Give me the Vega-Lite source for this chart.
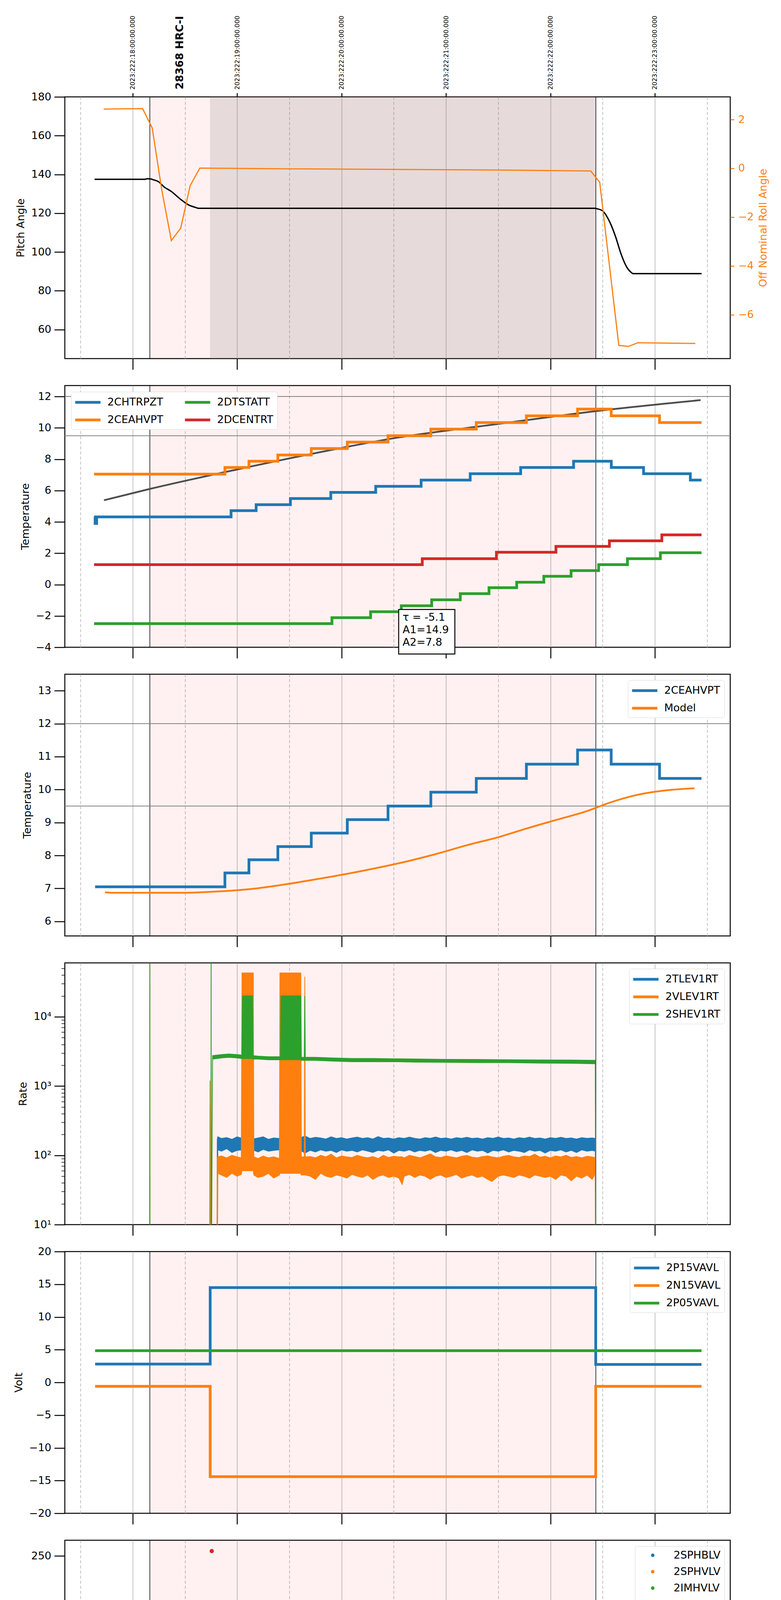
{
"$schema": "https://vega.github.io/schema/vega-lite/v6.json",
"background": "white",
"padding": {"top": 38, "left": 29, "right": 5, "bottom": 5},
"spacing": 69,
"bounds": "flush",
"resolve": {"scale": {"x": "independent", "y": "independent", "color": "independent", "stroke": "independent"}},
"vconcat": [
{
 "width": 1704, "height": 670,
 "layer": [
  {"data": {"values": [{"a": 14.164, "b": 18.435}]}, "mark": {"type": "rect", "color": "#ff0000", "opacity": 0.055},
   "encoding": {"x": {"field": "a", "type": "quantitative", "scale": {"domain": [13.35, 19.722], "nice": false, "zero": false},
     "axis": {"title": null, "values": [13.5,14,14.5,15,15.5,16,16.5,17,17.5,18,18.5,19,19.5], "labels": false, "grid": true, "gridColor": "#b0b0b0", "gridWidth": 1.5, "gridDash": {"condition": {"test": "datum.value % 1 != 0", "value": [8, 5]}, "value": []}, "tickSize": {"condition": {"test": "datum.value % 1 == 0", "value": 28}, "value": 0}}},
    "x2": {"field": "b"}}},
  {"data": {"values": [{"a": 14.74, "b": 18.435}]}, "mark": {"type": "rect", "color": "#808080", "opacity": 0.2},
   "encoding": {"x": {"field": "a", "type": "quantitative", "scale": {"domain": [13.35, 19.722], "nice": false, "zero": false}, "axis": null}, "x2": {"field": "b"}}},
  {"data": {"values": [{"t": 14.164}, {"t": 18.435}]}, "mark": {"type": "rule", "color": "black", "strokeWidth": 1.5},
   "encoding": {"x": {"field": "t", "type": "quantitative", "scale": {"domain": [13.35, 19.722], "nice": false, "zero": false}, "axis": null}}},
  {"layer": [
    {"data": {"values": [{"t":13.635,"v":137.5},{"t":14.117,"v":137.5},{"t":14.14,"v":137.8},{"t":14.17,"v":137.7},{"t":14.2,"v":137.2},{"t":14.248,"v":136.2},{"t":14.3,"v":133.6},{"t":14.37,"v":131.2},{"t":14.453,"v":127.4},{"t":14.537,"v":124.2},{"t":14.6,"v":123.0},{"t":14.633,"v":122.5},{"t":18.43,"v":122.5},{"t":18.445,"v":122.3},{"t":18.497,"v":121.3},{"t":18.567,"v":115.6},{"t":18.627,"v":107.4},{"t":18.675,"v":99.2},{"t":18.733,"v":92.0},{"t":18.77,"v":89.6},{"t":18.793,"v":88.8},{"t":19.448,"v":88.8}]},
     "mark": {"type": "line", "color": "black", "strokeWidth": 3.5, "interpolate": "monotone", "clip": true},
     "encoding": {"x": {"field": "t", "type": "quantitative", "scale": {"domain": [13.35, 19.722], "nice": false, "zero": false}, "axis": null},
      "y": {"field": "v", "type": "quantitative", "scale": {"domain": [45, 180], "nice": false, "zero": false}, "axis": {"title": "Pitch Angle", "orient": "left", "values": [60,80,100,120,140,160,180]}}}},
    {"data": {"values": [{"t": 14.452, "v": 180, "txt": "28368 HRC-I"}]},
     "mark": {"type": "text", "angle": 270, "align": "left", "baseline": "middle", "dx": 19, "font": "DejaVu Sans", "fontSize": 27, "fontWeight": "bold", "color": "black"},
     "encoding": {"x": {"field": "t", "type": "quantitative", "scale": {"domain": [13.35, 19.722], "nice": false, "zero": false}, "axis": null},
      "y": {"field": "v", "type": "quantitative", "scale": {"domain": [45, 180], "nice": false, "zero": false}, "axis": {"title": "Pitch Angle", "orient": "left", "values": [60,80,100,120,140,160,180]}},
      "text": {"field": "txt"}}}
  ]},
  {"data": {"values": [{"t":13.723,"v":2.43},{"t":14.095,"v":2.45},{"t":14.187,"v":1.65},{"t":14.279,"v":-0.9},{"t":14.37,"v":-2.96},{"t":14.46,"v":-2.45},{"t":14.55,"v":-0.71},{"t":14.643,"v":0.01},{"t":15.5,"v":-0.02},{"t":16.383,"v":-0.04},{"t":17.5,"v":-0.07},{"t":18.387,"v":-0.11},{"t":18.472,"v":-0.57},{"t":18.655,"v":-7.26},{"t":18.747,"v":-7.3},{"t":18.837,"v":-7.15},{"t":19.387,"v":-7.18}]},
   "mark": {"type": "line", "color": "#ff7f0e", "strokeWidth": 3, "clip": true},
   "encoding": {"x": {"field": "t", "type": "quantitative", "scale": {"domain": [13.35, 19.722], "nice": false, "zero": false},
     "axis": {"orient": "top", "title": null, "values": [14,15,16,17,18,19], "labelExpr": "'2023:222:' + (datum.value + 4) + ':00:00.000'", "labelAngle": 270, "labelAlign": "left", "labelBaseline": "middle", "labelFontSize": 16, "labelPadding": 9, "labelLimit": 400, "tickSize": 10, "grid": false, "labelOverlap": false, "labelFlush": false, "labelBound": false}},
    "y": {"field": "v", "type": "quantitative", "scale": {"domain": [-7.8, 2.93], "nice": false, "zero": false},
     "axis": {"orient": "right", "title": "Off Nominal Roll Angle", "values": [-6,-4,-2,0,2], "labelColor": "#ff7f0e", "tickColor": "#ff7f0e", "titleColor": "#ff7f0e", "tickSize": 10, "labelPadding": 10, "titlePadding": 12, "titleAngle": 270, "titleBaseline": "top"}}}}
 ],
 "resolve": {"scale": {"y": "independent"}, "axis": {"x": "independent", "y": "independent"}}
},
{
 "width": 1704, "height": 670,
 "resolve": {"axis": {"x": "independent"}},
 "layer": [
  {"data": {"values": [{"a": 14.164, "b": 18.435}]}, "mark": {"type": "rect", "color": "#ff0000", "opacity": 0.055},
   "encoding": {"x": {"field": "a", "type": "quantitative", "scale": {"domain": [13.35, 19.722], "nice": false, "zero": false},
     "axis": {"title": null, "values": [13.5,14,14.5,15,15.5,16,16.5,17,17.5,18,18.5,19,19.5], "labels": false, "grid": true, "gridColor": "#b0b0b0", "gridWidth": 1.5, "gridDash": {"condition": {"test": "datum.value % 1 != 0", "value": [8, 5]}, "value": []}, "tickSize": {"condition": {"test": "datum.value % 1 == 0", "value": 28}, "value": 0}}},
    "x2": {"field": "b"}}},
  {"data": {"values": [{"t": 14.164}, {"t": 18.435}]}, "mark": {"type": "rule", "color": "black", "strokeWidth": 1.5},
   "encoding": {"x": {"field": "t", "type": "quantitative", "scale": {"domain": [13.35, 19.722], "nice": false, "zero": false}, "axis": null}}},
  {"data": {"values": [{"v": 12}, {"v": 9.5}]}, "mark": {"type": "rule", "color": "#808080", "strokeWidth": 2},
   "encoding": {"y": {"field": "v", "type": "quantitative", "scale": {"domain": [-4, 12.7], "nice": false, "zero": false}, "axis": {"title": "Temperature", "values": [-4,-2,0,2,4,6,8,10,12]}}}},
  {"data": {"values": [{"t":13.725,"v":5.38},{"t":14.162,"v":6.1},{"t":14.99,"v":7.33},{"t":16.0,"v":8.72},{"t":16.465,"v":9.3},{"t":17.5,"v":10.25},{"t":18.435,"v":11.07},{"t":19.438,"v":11.77}]},
   "mark": {"type": "line", "color": "#4d4d4d", "strokeWidth": 4.5, "interpolate": "monotone", "clip": true},
   "encoding": {"x": {"field": "t", "type": "quantitative", "scale": {"domain": [13.35, 19.722], "nice": false, "zero": false}, "axis": null},
    "y": {"field": "v", "type": "quantitative", "scale": {"domain": [-4, 12.7], "nice": false, "zero": false}, "axis": {"title": "Temperature", "values": [-4,-2,0,2,4,6,8,10,12]}}}},
  {"data": {"values": [{"t":13.63,"v":4.32},{"t":13.64,"v":3.9},{"t":13.655,"v":4.32},{"t":14.942,"v":4.72},{"t":15.182,"v":5.1},{"t":15.51,"v":5.49},{"t":15.897,"v":5.88},{"t":16.327,"v":6.27},{"t":16.762,"v":6.67},{"t":17.232,"v":7.07},{"t":17.715,"v":7.47},{"t":18.222,"v":7.87},{"t":18.583,"v":7.47},{"t":18.892,"v":7.07},{"t":19.34,"v":6.67},{"t":19.447,"v":6.67}]},
   "mark": {"type": "line", "strokeWidth": 7, "interpolate": "step-after", "clip": true},
   "encoding": {"x": {"field": "t", "type": "quantitative", "scale": {"domain": [13.35, 19.722], "nice": false, "zero": false}, "axis": null},
    "y": {"field": "v", "type": "quantitative", "scale": {"domain": [-4, 12.7], "nice": false, "zero": false}, "axis": {"title": "Temperature", "values": [-4,-2,0,2,4,6,8,10,12]}},
    "color": {"datum": "2CHTRPZT", "type": "nominal", "scale": {"domain": ["2CHTRPZT","2CEAHVPT","2DTSTATT","2DCENTRT"], "range": ["#1f77b4","#ff7f0e","#2ca02c","#d62728"]}, "legend": {"title": null, "orient": "top-left", "columns": 2, "columnPadding": 40, "offset": 16}}}},
  {"data": {"values": [{"t":13.63,"v":7.05},{"t":14.883,"v":7.47},{"t":15.113,"v":7.87},{"t":15.39,"v":8.27},{"t":15.71,"v":8.68},{"t":16.055,"v":9.09},{"t":16.445,"v":9.5},{"t":16.855,"v":9.92},{"t":17.29,"v":10.34},{"t":17.77,"v":10.77},{"t":18.26,"v":11.2},{"t":18.582,"v":10.77},{"t":19.045,"v":10.34},{"t":19.447,"v":10.34}]},
   "mark": {"type": "line", "strokeWidth": 7, "interpolate": "step-after", "clip": true},
   "encoding": {"x": {"field": "t", "type": "quantitative", "scale": {"domain": [13.35, 19.722], "nice": false, "zero": false}, "axis": null},
    "y": {"field": "v", "type": "quantitative", "scale": {"domain": [-4, 12.7], "nice": false, "zero": false}, "axis": {"title": "Temperature", "values": [-4,-2,0,2,4,6,8,10,12]}},
    "color": {"datum": "2CEAHVPT", "type": "nominal", "scale": {"domain": ["2CHTRPZT","2CEAHVPT","2DTSTATT","2DCENTRT"], "range": ["#1f77b4","#ff7f0e","#2ca02c","#d62728"]}}}},
  {"data": {"values": [{"t":13.63,"v":-2.49},{"t":15.908,"v":-2.11},{"t":16.278,"v":-1.73},{"t":16.572,"v":-1.35},{"t":16.863,"v":-0.97},{"t":17.137,"v":-0.58},{"t":17.412,"v":-0.2},{"t":17.677,"v":0.15},{"t":17.937,"v":0.53},{"t":18.198,"v":0.89},{"t":18.462,"v":1.27},{"t":18.738,"v":1.65},{"t":19.053,"v":2.03},{"t":19.447,"v":2.03}]},
   "mark": {"type": "line", "strokeWidth": 7, "interpolate": "step-after", "clip": true},
   "encoding": {"x": {"field": "t", "type": "quantitative", "scale": {"domain": [13.35, 19.722], "nice": false, "zero": false}, "axis": null},
    "y": {"field": "v", "type": "quantitative", "scale": {"domain": [-4, 12.7], "nice": false, "zero": false}, "axis": {"title": "Temperature", "values": [-4,-2,0,2,4,6,8,10,12]}},
    "color": {"datum": "2DTSTATT", "type": "nominal", "scale": {"domain": ["2CHTRPZT","2CEAHVPT","2DTSTATT","2DCENTRT"], "range": ["#1f77b4","#ff7f0e","#2ca02c","#d62728"]}}}},
  {"data": {"values": [{"t":13.63,"v":1.27},{"t":16.773,"v":1.65},{"t":17.483,"v":2.06},{"t":18.053,"v":2.44},{"t":18.565,"v":2.79},{"t":19.067,"v":3.17},{"t":19.447,"v":3.17}]},
   "mark": {"type": "line", "strokeWidth": 7, "interpolate": "step-after", "clip": true},
   "encoding": {"x": {"field": "t", "type": "quantitative", "scale": {"domain": [13.35, 19.722], "nice": false, "zero": false}, "axis": null},
    "y": {"field": "v", "type": "quantitative", "scale": {"domain": [-4, 12.7], "nice": false, "zero": false}, "axis": {"title": "Temperature", "values": [-4,-2,0,2,4,6,8,10,12]}},
    "color": {"datum": "2DCENTRT", "type": "nominal", "scale": {"domain": ["2CHTRPZT","2CEAHVPT","2DTSTATT","2DCENTRT"], "range": ["#1f77b4","#ff7f0e","#2ca02c","#d62728"]}}}},
  {"data": {"values": [{"x1": 16.547, "x2": 17.085, "y1": -1.59, "y2": -4.43}]},
   "mark": {"type": "rect", "fill": "white", "stroke": "black", "strokeWidth": 2.5},
   "encoding": {"x": {"field": "x1", "type": "quantitative", "scale": {"domain": [13.35, 19.722], "nice": false, "zero": false}, "axis": null}, "x2": {"field": "x2"},
    "y": {"field": "y1", "type": "quantitative", "scale": {"domain": [-4, 12.7], "nice": false, "zero": false}, "axis": {"title": "Temperature", "values": [-4,-2,0,2,4,6,8,10,12]}}, "y2": {"field": "y2"}}},
  {"data": {"values": [{"t": 16.585, "v": -1.59, "txt": ["τ = -5.1", "A1=14.9", "A2=7.8"]}]},
   "mark": {"type": "text", "align": "left", "baseline": "top", "dy": 8, "font": "DejaVu Sans", "fontSize": 27, "lineHeight": 32, "color": "black"},
   "encoding": {"x": {"field": "t", "type": "quantitative", "scale": {"domain": [13.35, 19.722], "nice": false, "zero": false}, "axis": null},
    "y": {"field": "v", "type": "quantitative", "scale": {"domain": [-4, 12.7], "nice": false, "zero": false}, "axis": {"title": "Temperature", "values": [-4,-2,0,2,4,6,8,10,12]}},
    "text": {"field": "txt"}}}
 ]
},
{
 "width": 1704, "height": 670,
 "resolve": {"axis": {"x": "independent"}},
 "layer": [
  {"data": {"values": [{"a": 14.164, "b": 18.435}]}, "mark": {"type": "rect", "color": "#ff0000", "opacity": 0.055},
   "encoding": {"x": {"field": "a", "type": "quantitative", "scale": {"domain": [13.35, 19.722], "nice": false, "zero": false},
     "axis": {"title": null, "values": [13.5,14,14.5,15,15.5,16,16.5,17,17.5,18,18.5,19,19.5], "labels": false, "grid": true, "gridColor": "#b0b0b0", "gridWidth": 1.5, "gridDash": {"condition": {"test": "datum.value % 1 != 0", "value": [8, 5]}, "value": []}, "tickSize": {"condition": {"test": "datum.value % 1 == 0", "value": 28}, "value": 0}}},
    "x2": {"field": "b"}}},
  {"data": {"values": [{"t": 14.164}, {"t": 18.435}]}, "mark": {"type": "rule", "color": "black", "strokeWidth": 1.5},
   "encoding": {"x": {"field": "t", "type": "quantitative", "scale": {"domain": [13.35, 19.722], "nice": false, "zero": false}, "axis": null}}},
  {"data": {"values": [{"v": 12}, {"v": 9.5}]}, "mark": {"type": "rule", "color": "#808080", "strokeWidth": 2},
   "encoding": {"y": {"field": "v", "type": "quantitative", "scale": {"domain": [5.56, 13.5], "nice": false, "zero": false}, "axis": {"title": "Temperature", "values": [6,7,8,9,10,11,12,13]}}}},
  {"data": {"values": [{"t":13.64,"v":7.05},{"t":14.883,"v":7.47},{"t":15.113,"v":7.87},{"t":15.39,"v":8.27},{"t":15.71,"v":8.68},{"t":16.055,"v":9.09},{"t":16.445,"v":9.5},{"t":16.855,"v":9.92},{"t":17.29,"v":10.34},{"t":17.77,"v":10.77},{"t":18.26,"v":11.2},{"t":18.582,"v":10.77},{"t":19.045,"v":10.34},{"t":19.447,"v":10.34}]},
   "mark": {"type": "line", "strokeWidth": 7, "interpolate": "step-after", "clip": true},
   "encoding": {"x": {"field": "t", "type": "quantitative", "scale": {"domain": [13.35, 19.722], "nice": false, "zero": false}, "axis": null},
    "y": {"field": "v", "type": "quantitative", "scale": {"domain": [5.56, 13.5], "nice": false, "zero": false}, "axis": {"title": "Temperature", "values": [6,7,8,9,10,11,12,13]}},
    "color": {"datum": "2CEAHVPT", "type": "nominal", "scale": {"domain": ["2CEAHVPT","Model"], "range": ["#1f77b4","#ff7f0e"]}, "legend": {"title": null, "orient": "top-right"}}}},
  {"data": {"values": [{"t":13.735,"v":6.88},{"t":13.817,"v":6.87},{"t":14.0,"v":6.87},{"t":14.467,"v":6.87},{"t":14.823,"v":6.91},{"t":15.013,"v":6.95},{"t":15.205,"v":7.01},{"t":15.492,"v":7.14},{"t":15.777,"v":7.29},{"t":16.063,"v":7.45},{"t":16.35,"v":7.63},{"t":16.637,"v":7.83},{"t":16.922,"v":8.06},{"t":17.208,"v":8.32},{"t":17.495,"v":8.55},{"t":17.782,"v":8.83},{"t":18.067,"v":9.09},{"t":18.353,"v":9.35},{"t":18.545,"v":9.58},{"t":18.832,"v":9.84},{"t":19.117,"v":9.98},{"t":19.38,"v":10.04}]},
   "mark": {"type": "line", "strokeWidth": 4.5, "interpolate": "monotone", "clip": true},
   "encoding": {"x": {"field": "t", "type": "quantitative", "scale": {"domain": [13.35, 19.722], "nice": false, "zero": false}, "axis": null},
    "y": {"field": "v", "type": "quantitative", "scale": {"domain": [5.56, 13.5], "nice": false, "zero": false}, "axis": {"title": "Temperature", "values": [6,7,8,9,10,11,12,13]}},
    "color": {"datum": "Model", "type": "nominal", "scale": {"domain": ["2CEAHVPT","Model"], "range": ["#1f77b4","#ff7f0e"]}}}}
 ]
},
{
 "width": 1704, "height": 670,
 "resolve": {"axis": {"x": "independent"}},
 "layer": [
  {"data": {"values": [{"a": 14.164, "b": 18.435}]}, "mark": {"type": "rect", "color": "#ff0000", "opacity": 0.055},
   "encoding": {"x": {"field": "a", "type": "quantitative", "scale": {"domain": [13.35, 19.722], "nice": false, "zero": false},
     "axis": {"title": null, "values": [13.5,14,14.5,15,15.5,16,16.5,17,17.5,18,18.5,19,19.5], "labels": false, "grid": true, "gridColor": "#b0b0b0", "gridWidth": 1.5, "gridDash": {"condition": {"test": "datum.value % 1 != 0", "value": [8, 5]}, "value": []}, "tickSize": {"condition": {"test": "datum.value % 1 == 0", "value": 28}, "value": 0}}},
    "x2": {"field": "b"}}},
  {"data": {"values": [{"t": 14.164}, {"t": 18.435}]}, "mark": {"type": "rule", "color": "black", "strokeWidth": 1.5},
   "encoding": {"x": {"field": "t", "type": "quantitative", "scale": {"domain": [13.35, 19.722], "nice": false, "zero": false}, "axis": null}}},
  {"data": {"values": [{"t":14.805,"lo":1,"hi":1},{"t":14.81,"lo":1,"hi":170},{"t":14.815,"lo":120,"hi":185},{"t":14.85,"lo":115,"hi":175},{"t":14.9,"lo":125,"hi":180},{"t":14.95,"lo":110,"hi":170},{"t":15.0,"lo":118,"hi":185},{"t":15.05,"lo":120,"hi":175},{"t":15.1,"lo":115,"hi":180},{"t":15.15,"lo":120,"hi":172},{"t":15.2,"lo":112,"hi":178},{"t":15.25,"lo":122,"hi":185},{"t":15.3,"lo":115,"hi":170},{"t":15.35,"lo":118,"hi":178},{"t":15.4,"lo":120,"hi":175},{"t":15.45,"lo":110,"hi":180},{"t":15.5,"lo":118,"hi":172},{"t":15.55,"lo":115,"hi":185},{"t":15.6,"lo":120,"hi":178},{"t":15.65,"lo":108,"hi":190},{"t":15.7,"lo":118,"hi":175},{"t":15.75,"lo":112,"hi":182},{"t":15.8,"lo":120,"hi":178},{"t":15.85,"lo":115,"hi":172},{"t":15.9,"lo":118,"hi":185},{"t":15.95,"lo":110,"hi":175},{"t":16.0,"lo":120,"hi":180},{"t":16.05,"lo":115,"hi":172},{"t":16.1,"lo":118,"hi":178},{"t":16.15,"lo":112,"hi":183},{"t":16.2,"lo":120,"hi":175},{"t":16.25,"lo":115,"hi":180},{"t":16.3,"lo":110,"hi":172},{"t":16.35,"lo":118,"hi":186},{"t":16.4,"lo":115,"hi":175},{"t":16.45,"lo":120,"hi":178},{"t":16.5,"lo":108,"hi":172},{"t":16.55,"lo":118,"hi":180},{"t":16.6,"lo":115,"hi":175},{"t":16.65,"lo":120,"hi":183},{"t":16.7,"lo":112,"hi":176},{"t":16.75,"lo":118,"hi":172},{"t":16.8,"lo":115,"hi":180},{"t":16.85,"lo":120,"hi":176},{"t":16.9,"lo":110,"hi":184},{"t":16.95,"lo":118,"hi":175},{"t":17.0,"lo":115,"hi":178},{"t":17.05,"lo":120,"hi":172},{"t":17.1,"lo":113,"hi":180},{"t":17.15,"lo":118,"hi":176},{"t":17.2,"lo":110,"hi":182},{"t":17.25,"lo":120,"hi":175},{"t":17.3,"lo":115,"hi":178},{"t":17.35,"lo":118,"hi":172},{"t":17.4,"lo":108,"hi":180},{"t":17.45,"lo":118,"hi":176},{"t":17.5,"lo":115,"hi":184},{"t":17.55,"lo":120,"hi":175},{"t":17.6,"lo":112,"hi":178},{"t":17.65,"lo":118,"hi":172},{"t":17.7,"lo":115,"hi":180},{"t":17.75,"lo":110,"hi":176},{"t":17.8,"lo":120,"hi":183},{"t":17.85,"lo":115,"hi":175},{"t":17.9,"lo":118,"hi":178},{"t":17.95,"lo":108,"hi":172},{"t":18.0,"lo":118,"hi":180},{"t":18.05,"lo":115,"hi":176},{"t":18.1,"lo":120,"hi":182},{"t":18.15,"lo":112,"hi":175},{"t":18.2,"lo":118,"hi":178},{"t":18.25,"lo":110,"hi":172},{"t":18.3,"lo":120,"hi":180},{"t":18.35,"lo":115,"hi":176},{"t":18.4,"lo":118,"hi":178},{"t":18.43,"lo":115,"hi":175},{"t":18.433,"lo":1,"hi":1}]},
   "mark": {"type": "area", "fill": "#1f77b4", "strokeWidth": 2, "clip": true},
   "encoding": {"x": {"field": "t", "type": "quantitative", "scale": {"domain": [13.35, 19.722], "nice": false, "zero": false}, "axis": null},
    "y": {"field": "lo", "type": "quantitative", "scale": {"type": "log", "domain": [10, 60000], "nice": false},
     "axis": {"title": "Rate", "values": [10,20,30,40,50,60,70,80,90,100,200,300,400,500,600,700,800,900,1000,2000,3000,4000,5000,6000,7000,8000,9000,10000,20000,30000,40000,50000], "labelExpr": "datum.value == 10 ? '10¹' : datum.value == 100 ? '10²' : datum.value == 1000 ? '10³' : datum.value == 10000 ? '10⁴' : ''", "tickSize": {"condition": {"test": "datum.value == 10 || datum.value == 100 || datum.value == 1000 || datum.value == 10000", "value": 27}, "value": 9}, "tickWidth": {"condition": {"test": "datum.value == 10 || datum.value == 100 || datum.value == 1000 || datum.value == 10000", "value": 2.5}, "value": 1.5}, "labelOverlap": false}},
    "y2": {"field": "hi"},
    "stroke": {"datum": "2TLEV1RT", "type": "nominal", "scale": {"domain": ["2TLEV1RT","2VLEV1RT","2SHEV1RT"], "range": ["#1f77b4","#ff7f0e","#2ca02c"]}, "legend": {"title": null, "orient": "top-right"}}}},
  {"data": {"values": [{"t":14.735,"lo":1,"hi":1},{"t":14.74,"lo":1,"hi":1200},{"t":14.745,"lo":1,"hi":1},{"t":14.806,"lo":1,"hi":1},{"t":14.81,"lo":1,"hi":90},{"t":14.815,"lo":55,"hi":95},{"t":14.85,"lo":52,"hi":98},{"t":14.9,"lo":48,"hi":92},{"t":14.95,"lo":55,"hi":100},{"t":15.0,"lo":50,"hi":95},{"t":15.04,"lo":53,"hi":92},{"t":15.047,"lo":60,"hi":43000},{"t":15.155,"lo":60,"hi":43000},{"t":15.16,"lo":52,"hi":95},{"t":15.2,"lo":48,"hi":90},{"t":15.25,"lo":50,"hi":98},{"t":15.3,"lo":55,"hi":92},{"t":15.35,"lo":47,"hi":95},{"t":15.405,"lo":52,"hi":90},{"t":15.41,"lo":55,"hi":43000},{"t":15.61,"lo":55,"hi":43000},{"t":15.615,"lo":52,"hi":95},{"t":15.643,"lo":52,"hi":95},{"t":15.648,"lo":52,"hi":38000},{"t":15.653,"lo":52,"hi":95},{"t":15.7,"lo":50,"hi":96},{"t":15.75,"lo":45,"hi":92},{"t":15.8,"lo":55,"hi":100},{"t":15.85,"lo":50,"hi":95},{"t":15.9,"lo":48,"hi":104},{"t":15.95,"lo":52,"hi":92},{"t":16.0,"lo":50,"hi":98},{"t":16.05,"lo":47,"hi":95},{"t":16.1,"lo":53,"hi":93},{"t":16.15,"lo":50,"hi":100},{"t":16.2,"lo":48,"hi":95},{"t":16.25,"lo":52,"hi":92},{"t":16.3,"lo":45,"hi":96},{"t":16.35,"lo":50,"hi":90},{"t":16.4,"lo":52,"hi":100},{"t":16.45,"lo":48,"hi":93},{"t":16.5,"lo":50,"hi":97},{"t":16.55,"lo":47,"hi":95},{"t":16.58,"lo":38,"hi":95},{"t":16.6,"lo":50,"hi":92},{"t":16.65,"lo":53,"hi":100},{"t":16.7,"lo":48,"hi":96},{"t":16.75,"lo":52,"hi":92},{"t":16.8,"lo":50,"hi":98},{"t":16.85,"lo":45,"hi":105},{"t":16.9,"lo":50,"hi":95},{"t":16.95,"lo":52,"hi":93},{"t":17.0,"lo":48,"hi":98},{"t":17.05,"lo":50,"hi":95},{"t":17.1,"lo":53,"hi":92},{"t":17.15,"lo":47,"hi":97},{"t":17.2,"lo":50,"hi":100},{"t":17.25,"lo":52,"hi":94},{"t":17.3,"lo":48,"hi":92},{"t":17.35,"lo":50,"hi":96},{"t":17.4,"lo":45,"hi":98},{"t":17.44,"lo":42,"hi":95},{"t":17.5,"lo":50,"hi":92},{"t":17.55,"lo":52,"hi":97},{"t":17.6,"lo":50,"hi":100},{"t":17.65,"lo":48,"hi":95},{"t":17.7,"lo":52,"hi":93},{"t":17.75,"lo":50,"hi":98},{"t":17.8,"lo":47,"hi":96},{"t":17.85,"lo":52,"hi":104},{"t":17.9,"lo":50,"hi":94},{"t":17.95,"lo":48,"hi":97},{"t":18.0,"lo":50,"hi":92},{"t":18.05,"lo":45,"hi":98},{"t":18.1,"lo":52,"hi":95},{"t":18.15,"lo":50,"hi":100},{"t":18.2,"lo":43,"hi":93},{"t":18.25,"lo":50,"hi":96},{"t":18.3,"lo":47,"hi":92},{"t":18.35,"lo":52,"hi":97},{"t":18.4,"lo":45,"hi":95},{"t":18.43,"lo":55,"hi":92},{"t":18.433,"lo":1,"hi":1}]},
   "mark": {"type": "area", "fill": "#ff7f0e", "strokeWidth": 2, "clip": true},
   "encoding": {"x": {"field": "t", "type": "quantitative", "scale": {"domain": [13.35, 19.722], "nice": false, "zero": false}, "axis": null},
    "y": {"field": "lo", "type": "quantitative", "scale": {"type": "log", "domain": [10, 60000], "nice": false},
     "axis": {"title": "Rate", "values": [10,20,30,40,50,60,70,80,90,100,200,300,400,500,600,700,800,900,1000,2000,3000,4000,5000,6000,7000,8000,9000,10000,20000,30000,40000,50000], "labelExpr": "datum.value == 10 ? '10¹' : datum.value == 100 ? '10²' : datum.value == 1000 ? '10³' : datum.value == 10000 ? '10⁴' : ''", "tickSize": {"condition": {"test": "datum.value == 10 || datum.value == 100 || datum.value == 1000 || datum.value == 10000", "value": 27}, "value": 9}, "tickWidth": {"condition": {"test": "datum.value == 10 || datum.value == 100 || datum.value == 1000 || datum.value == 10000", "value": 2.5}, "value": 1.5}, "labelOverlap": false}},
    "y2": {"field": "hi"},
    "stroke": {"datum": "2VLEV1RT", "type": "nominal", "scale": {"domain": ["2TLEV1RT","2VLEV1RT","2SHEV1RT"], "range": ["#1f77b4","#ff7f0e","#2ca02c"]}}}},
  {"data": {"values": [{"t":14.162,"lo":1,"hi":1},{"t":14.164,"lo":1,"hi":1000000},{"t":14.166,"lo":1,"hi":1},{"t":14.749,"lo":1,"hi":1},{"t":14.751,"lo":1,"hi":1000000},{"t":14.753,"lo":1,"hi":1},{"t":14.765,"lo":2450,"hi":2750},{"t":14.85,"lo":2550,"hi":2850},{"t":14.92,"lo":2600,"hi":2900},{"t":15.0,"lo":2550,"hi":2850},{"t":15.045,"lo":2500,"hi":2800},{"t":15.052,"lo":2500,"hi":20000},{"t":15.147,"lo":2500,"hi":20000},{"t":15.152,"lo":2450,"hi":2750},{"t":15.2,"lo":2450,"hi":2700},{"t":15.3,"lo":2400,"hi":2650},{"t":15.415,"lo":2400,"hi":2650},{"t":15.42,"lo":2400,"hi":20000},{"t":15.61,"lo":2400,"hi":20000},{"t":15.615,"lo":2350,"hi":2600},{"t":15.643,"lo":2350,"hi":2600},{"t":15.648,"lo":2350,"hi":20000},{"t":15.653,"lo":2350,"hi":2600},{"t":15.75,"lo":2350,"hi":2600},{"t":15.9,"lo":2300,"hi":2550},{"t":16.1,"lo":2250,"hi":2500},{"t":16.3,"lo":2250,"hi":2500},{"t":16.5,"lo":2250,"hi":2480},{"t":16.7,"lo":2220,"hi":2460},{"t":17.0,"lo":2200,"hi":2430},{"t":17.3,"lo":2180,"hi":2420},{"t":17.6,"lo":2180,"hi":2400},{"t":17.9,"lo":2150,"hi":2380},{"t":18.2,"lo":2130,"hi":2370},{"t":18.43,"lo":2100,"hi":2350},{"t":18.434,"lo":1,"hi":1}]},
   "mark": {"type": "area", "fill": "#2ca02c", "strokeWidth": 2, "clip": true},
   "encoding": {"x": {"field": "t", "type": "quantitative", "scale": {"domain": [13.35, 19.722], "nice": false, "zero": false}, "axis": null},
    "y": {"field": "lo", "type": "quantitative", "scale": {"type": "log", "domain": [10, 60000], "nice": false},
     "axis": {"title": "Rate", "values": [10,20,30,40,50,60,70,80,90,100,200,300,400,500,600,700,800,900,1000,2000,3000,4000,5000,6000,7000,8000,9000,10000,20000,30000,40000,50000], "labelExpr": "datum.value == 10 ? '10¹' : datum.value == 100 ? '10²' : datum.value == 1000 ? '10³' : datum.value == 10000 ? '10⁴' : ''", "tickSize": {"condition": {"test": "datum.value == 10 || datum.value == 100 || datum.value == 1000 || datum.value == 10000", "value": 27}, "value": 9}, "tickWidth": {"condition": {"test": "datum.value == 10 || datum.value == 100 || datum.value == 1000 || datum.value == 10000", "value": 2.5}, "value": 1.5}, "labelOverlap": false}},
    "y2": {"field": "hi"},
    "stroke": {"datum": "2SHEV1RT", "type": "nominal", "scale": {"domain": ["2TLEV1RT","2VLEV1RT","2SHEV1RT"], "range": ["#1f77b4","#ff7f0e","#2ca02c"]}}}}
 ]
},
{
 "width": 1704, "height": 670,
 "resolve": {"axis": {"x": "independent"}},
 "layer": [
  {"data": {"values": [{"a": 14.164, "b": 18.435}]}, "mark": {"type": "rect", "color": "#ff0000", "opacity": 0.055},
   "encoding": {"x": {"field": "a", "type": "quantitative", "scale": {"domain": [13.35, 19.722], "nice": false, "zero": false},
     "axis": {"title": null, "values": [13.5,14,14.5,15,15.5,16,16.5,17,17.5,18,18.5,19,19.5], "labels": false, "grid": true, "gridColor": "#b0b0b0", "gridWidth": 1.5, "gridDash": {"condition": {"test": "datum.value % 1 != 0", "value": [8, 5]}, "value": []}, "tickSize": {"condition": {"test": "datum.value % 1 == 0", "value": 28}, "value": 0}}},
    "x2": {"field": "b"}}},
  {"data": {"values": [{"t": 14.164}, {"t": 18.435}]}, "mark": {"type": "rule", "color": "black", "strokeWidth": 1.5},
   "encoding": {"x": {"field": "t", "type": "quantitative", "scale": {"domain": [13.35, 19.722], "nice": false, "zero": false}, "axis": null}}},
  {"data": {"values": [{"t":13.64,"v":2.8},{"t":14.742,"v":14.5},{"t":18.434,"v":2.75},{"t":19.447,"v":2.75}]},
   "mark": {"type": "line", "strokeWidth": 7, "interpolate": "step-after", "clip": true},
   "encoding": {"x": {"field": "t", "type": "quantitative", "scale": {"domain": [13.35, 19.722], "nice": false, "zero": false}, "axis": null},
    "y": {"field": "v", "type": "quantitative", "scale": {"domain": [-20, 20], "nice": false, "zero": false}, "axis": {"title": "Volt", "values": [-20,-15,-10,-5,0,5,10,15,20]}},
    "color": {"datum": "2P15VAVL", "type": "nominal", "scale": {"domain": ["2P15VAVL","2N15VAVL","2P05VAVL"], "range": ["#1f77b4","#ff7f0e","#2ca02c"]}, "legend": {"title": null, "orient": "top-right"}}}},
  {"data": {"values": [{"t":13.64,"v":-0.6},{"t":14.742,"v":-14.4},{"t":18.434,"v":-0.6},{"t":19.447,"v":-0.6}]},
   "mark": {"type": "line", "strokeWidth": 7, "interpolate": "step-after", "clip": true},
   "encoding": {"x": {"field": "t", "type": "quantitative", "scale": {"domain": [13.35, 19.722], "nice": false, "zero": false}, "axis": null},
    "y": {"field": "v", "type": "quantitative", "scale": {"domain": [-20, 20], "nice": false, "zero": false}, "axis": {"title": "Volt", "values": [-20,-15,-10,-5,0,5,10,15,20]}},
    "color": {"datum": "2N15VAVL", "type": "nominal", "scale": {"domain": ["2P15VAVL","2N15VAVL","2P05VAVL"], "range": ["#1f77b4","#ff7f0e","#2ca02c"]}}}},
  {"data": {"values": [{"t":13.64,"v":4.85},{"t":19.447,"v":4.85}]},
   "mark": {"type": "line", "strokeWidth": 7, "interpolate": "step-after", "clip": true},
   "encoding": {"x": {"field": "t", "type": "quantitative", "scale": {"domain": [13.35, 19.722], "nice": false, "zero": false}, "axis": null},
    "y": {"field": "v", "type": "quantitative", "scale": {"domain": [-20, 20], "nice": false, "zero": false}, "axis": {"title": "Volt", "values": [-20,-15,-10,-5,0,5,10,15,20]}},
    "color": {"datum": "2P05VAVL", "type": "nominal", "scale": {"domain": ["2P15VAVL","2N15VAVL","2P05VAVL"], "range": ["#1f77b4","#ff7f0e","#2ca02c"]}}}}
 ]
},
{
 "width": 1704, "height": 670,
 "resolve": {"axis": {"x": "independent"}},
 "layer": [
  {"data": {"values": [{"a": 14.164, "b": 18.435}]}, "mark": {"type": "rect", "color": "#ff0000", "opacity": 0.055},
   "encoding": {"x": {"field": "a", "type": "quantitative", "scale": {"domain": [13.35, 19.722], "nice": false, "zero": false},
     "axis": {"title": null, "values": [13.5,14,14.5,15,15.5,16,16.5,17,17.5,18,18.5,19,19.5], "labels": false, "grid": true, "gridColor": "#b0b0b0", "gridWidth": 1.5, "gridDash": {"condition": {"test": "datum.value % 1 != 0", "value": [8, 5]}, "value": []}, "tickSize": {"condition": {"test": "datum.value % 1 == 0", "value": 28}, "value": 0}}},
    "x2": {"field": "b"}}},
  {"data": {"values": [{"t": 14.164}, {"t": 18.435}]}, "mark": {"type": "rule", "color": "black", "strokeWidth": 1.5},
   "encoding": {"x": {"field": "t", "type": "quantitative", "scale": {"domain": [13.35, 19.722], "nice": false, "zero": false}, "axis": null}}},
  {"data": {"values": [{"t":14.82,"g":79,"r":86},{"t":14.84,"g":79,"r":86},{"t":14.86,"g":79,"r":86},{"t":14.88,"g":79,"r":86},{"t":14.9,"g":79,"r":86},{"t":14.92,"g":79,"r":86},{"t":14.94,"g":79,"r":86},{"t":14.96,"g":79,"r":86},{"t":14.98,"g":79,"r":86},{"t":15.0,"g":79,"r":86},{"t":15.02,"g":79,"r":86},{"t":15.04,"g":79,"r":86},{"t":15.06,"g":79,"r":86},{"t":15.08,"g":79,"r":86},{"t":15.1,"g":79,"r":86},{"t":15.12,"g":79,"r":86},{"t":15.14,"g":79,"r":86},{"t":15.16,"g":79,"r":86},{"t":15.18,"g":79,"r":86},{"t":15.2,"g":79,"r":86},{"t":15.22,"g":79,"r":86},{"t":15.24,"g":79,"r":86},{"t":15.26,"g":78,"r":86},{"t":15.28,"g":79,"r":86},{"t":15.3,"g":79,"r":86},{"t":15.32,"g":79,"r":86},{"t":15.34,"g":79,"r":86},{"t":15.36,"g":79,"r":86},{"t":15.38,"g":79,"r":86},{"t":15.4,"g":79,"r":86},{"t":15.42,"g":79,"r":86},{"t":15.44,"g":79,"r":86},{"t":15.46,"g":79,"r":86},{"t":15.48,"g":79,"r":86},{"t":15.5,"g":79,"r":86},{"t":15.52,"g":79,"r":86},{"t":15.54,"g":79,"r":86},{"t":15.56,"g":79,"r":86},{"t":15.58,"g":79,"r":86},{"t":15.6,"g":79,"r":86},{"t":15.62,"g":79,"r":86},{"t":15.64,"g":79,"r":86},{"t":15.66,"g":79,"r":86},{"t":15.68,"g":79,"r":86},{"t":15.7,"g":79,"r":86},{"t":15.72,"g":79,"r":86},{"t":15.74,"g":78,"r":86},{"t":15.76,"g":79,"r":86},{"t":15.78,"g":79,"r":86},{"t":15.8,"g":79,"r":86},{"t":15.82,"g":79,"r":86},{"t":15.84,"g":79,"r":86},{"t":15.86,"g":79,"r":86},{"t":15.88,"g":79,"r":86},{"t":15.9,"g":79,"r":86},{"t":15.92,"g":79,"r":86},{"t":15.94,"g":79,"r":86},{"t":15.96,"g":79,"r":86},{"t":15.98,"g":79,"r":86},{"t":16.0,"g":79,"r":86},{"t":16.02,"g":79,"r":86},{"t":16.04,"g":79,"r":86},{"t":16.06,"g":79,"r":86},{"t":16.08,"g":79,"r":86},{"t":16.1,"g":79,"r":86},{"t":16.12,"g":79,"r":86},{"t":16.14,"g":79,"r":86},{"t":16.16,"g":79,"r":86},{"t":16.18,"g":79,"r":86},{"t":16.2,"g":79,"r":86},{"t":16.22,"g":79,"r":86},{"t":16.24,"g":79,"r":86},{"t":16.26,"g":79,"r":86},{"t":16.28,"g":79,"r":86},{"t":16.3,"g":79,"r":86},{"t":16.32,"g":79,"r":86},{"t":16.34,"g":79,"r":86},{"t":16.36,"g":79,"r":86},{"t":16.38,"g":79,"r":86},{"t":16.4,"g":79,"r":86},{"t":16.42,"g":79,"r":86},{"t":16.44,"g":79,"r":86},{"t":16.46,"g":79,"r":86},{"t":16.48,"g":79,"r":86},{"t":16.5,"g":79,"r":86},{"t":16.52,"g":79,"r":86},{"t":16.54,"g":79,"r":86},{"t":16.56,"g":79,"r":86},{"t":16.58,"g":79,"r":86},{"t":16.6,"g":79,"r":86},{"t":16.62,"g":79,"r":86},{"t":16.64,"g":79,"r":86},{"t":16.66,"g":79,"r":86},{"t":16.68,"g":79,"r":86},{"t":16.7,"g":79,"r":86},{"t":16.72,"g":79,"r":86},{"t":16.74,"g":79,"r":86},{"t":16.76,"g":79,"r":86},{"t":16.78,"g":79,"r":86},{"t":16.8,"g":79,"r":86},{"t":16.82,"g":79,"r":86},{"t":16.84,"g":79,"r":86},{"t":16.86,"g":79,"r":86},{"t":16.88,"g":79,"r":86},{"t":16.9,"g":79,"r":86},{"t":16.92,"g":79,"r":86},{"t":16.94,"g":79,"r":86},{"t":16.96,"g":79,"r":86},{"t":16.98,"g":79,"r":86},{"t":17.0,"g":79,"r":86},{"t":17.02,"g":79,"r":86},{"t":17.04,"g":79,"r":86},{"t":17.06,"g":79,"r":86},{"t":17.08,"g":79,"r":86},{"t":17.1,"g":79,"r":86},{"t":17.12,"g":79,"r":86},{"t":17.14,"g":79,"r":86},{"t":17.16,"g":79,"r":86},{"t":17.18,"g":79,"r":86},{"t":17.2,"g":79,"r":86},{"t":17.22,"g":79,"r":86},{"t":17.24,"g":79,"r":86},{"t":17.26,"g":79,"r":86},{"t":17.28,"g":79,"r":86},{"t":17.3,"g":79,"r":86},{"t":17.32,"g":79,"r":86},{"t":17.34,"g":79,"r":86},{"t":17.36,"g":79,"r":86},{"t":17.38,"g":79,"r":86},{"t":17.4,"g":79,"r":86},{"t":17.42,"g":79,"r":86},{"t":17.44,"g":79,"r":86},{"t":17.46,"g":79,"r":86},{"t":17.48,"g":79,"r":86},{"t":17.5,"g":79,"r":86},{"t":17.52,"g":79,"r":86},{"t":17.54,"g":79,"r":86},{"t":17.56,"g":79,"r":86},{"t":17.58,"g":79,"r":86},{"t":17.6,"g":79,"r":86},{"t":17.62,"g":79,"r":86},{"t":17.64,"g":79,"r":86},{"t":17.66,"g":79,"r":86},{"t":17.68,"g":79,"r":86},{"t":17.7,"g":79,"r":86},{"t":17.72,"g":79,"r":86},{"t":17.74,"g":79,"r":86},{"t":17.76,"g":79,"r":86},{"t":17.78,"g":79,"r":86},{"t":17.8,"g":79,"r":86},{"t":17.82,"g":79,"r":86},{"t":17.84,"g":79,"r":86},{"t":17.86,"g":79,"r":86},{"t":17.88,"g":79,"r":86},{"t":17.9,"g":79,"r":86},{"t":17.92,"g":79,"r":86},{"t":17.94,"g":79,"r":86},{"t":17.96,"g":79,"r":86},{"t":17.98,"g":79,"r":86},{"t":18.0,"g":79,"r":86},{"t":18.02,"g":79,"r":86},{"t":18.04,"g":79,"r":86},{"t":18.06,"g":79,"r":86},{"t":18.08,"g":79,"r":86},{"t":18.1,"g":79,"r":86},{"t":18.12,"g":79,"r":86},{"t":18.14,"g":79,"r":86},{"t":18.16,"g":79,"r":86},{"t":18.18,"g":79,"r":86},{"t":18.2,"g":79,"r":86},{"t":18.22,"g":79,"r":86},{"t":18.24,"g":79,"r":86},{"t":18.26,"g":79,"r":86},{"t":18.28,"g":79,"r":86},{"t":18.3,"g":79,"r":86},{"t":18.32,"g":79,"r":86},{"t":18.34,"g":79,"r":86},{"t":18.36,"g":79,"r":86},{"t":18.38,"g":79,"r":86},{"t":18.4,"g":79,"r":86},{"t":18.42,"g":79,"r":86}]},
   "transform": [{"fold": ["g", "r"], "as": ["k", "v"]}, {"lookup": "k", "from": {"data": {"values": [{"k": "g", "s": "2IMHVLV"}, {"k": "r", "s": "2IMHBLV"}]}, "key": "k", "fields": ["s"]}}],
   "mark": {"type": "point", "filled": true, "size": 120, "opacity": 1, "clip": true},
   "encoding": {"x": {"field": "t", "type": "quantitative", "scale": {"domain": [13.35, 19.722], "nice": false, "zero": false}, "axis": null},
    "y": {"field": "v", "type": "quantitative", "scale": {"domain": [0, 266], "nice": false, "zero": false}, "axis": {"title": "HV Monitor", "values": [0,50,100,150,200,250]}},
    "color": {"field": "s", "type": "nominal", "scale": {"domain": ["2SPHBLV","2SPHVLV","2IMHVLV","2IMHBLV"], "range": ["#1f77b4","#ff7f0e","#2ca02c","#d62728"]},
     "legend": {"title": null, "orient": "top-right", "symbolType": "circle", "symbolSize": 80, "symbolStrokeWidth": 0, "symbolOffset": 22, "labelOffset": 40}}}},
  {"data": {"values": [{"s":"2IMHVLV","t":14.765,"v":99.6},{"s":"2IMHVLV","t":14.775,"v":95.2},{"s":"2IMHVLV","t":14.784,"v":90.8},{"s":"2IMHVLV","t":14.794,"v":86},{"s":"2IMHVLV","t":14.808,"v":82.7},{"s":"2IMHVLV","t":15.08,"v":127},{"s":"2IMHVLV","t":15.505,"v":127},{"s":"2IMHVLV","t":15.515,"v":127},{"s":"2IMHVLV","t":15.525,"v":127},{"s":"2IMHVLV","t":15.535,"v":127},{"s":"2IMHVLV","t":15.545,"v":127},{"s":"2IMHVLV","t":15.555,"v":127},{"s":"2IMHBLV","t":14.757,"v":255},{"s":"2IMHBLV","t":14.765,"v":127},{"s":"2IMHBLV","t":14.766,"v":124},{"s":"2IMHBLV","t":14.767,"v":119},{"s":"2IMHBLV","t":14.775,"v":106},{"s":"2IMHBLV","t":14.776,"v":104},{"s":"2IMHBLV","t":14.784,"v":101},{"s":"2IMHBLV","t":14.789,"v":98.3},{"s":"2IMHBLV","t":14.799,"v":93.5},{"s":"2IMHBLV","t":14.808,"v":89.5},{"s":"2IMHBLV","t":15.076,"v":79},{"s":"2IMHBLV","t":15.5,"v":79},{"s":"2IMHBLV","t":15.52,"v":79},{"s":"2IMHBLV","t":15.545,"v":79}]},
   "mark": {"type": "point", "filled": true, "size": 120, "opacity": 1, "clip": true},
   "encoding": {"x": {"field": "t", "type": "quantitative", "scale": {"domain": [13.35, 19.722], "nice": false, "zero": false}, "axis": null},
    "y": {"field": "v", "type": "quantitative", "scale": {"domain": [0, 266], "nice": false, "zero": false}, "axis": {"title": "HV Monitor", "values": [0,50,100,150,200,250]}},
    "color": {"field": "s", "type": "nominal", "scale": {"domain": ["2SPHBLV","2SPHVLV","2IMHVLV","2IMHBLV"], "range": ["#1f77b4","#ff7f0e","#2ca02c","#d62728"]}}}}
 ]
},
{
 "width": 1704, "height": 670,
 "resolve": {"axis": {"x": "independent"}},
 "layer": [
  {"data": {"values": [{"a": 14.164, "b": 18.435}]}, "mark": {"type": "rect", "color": "#ff0000", "opacity": 0.055},
   "encoding": {"x": {"field": "a", "type": "quantitative", "scale": {"domain": [13.35, 19.722], "nice": false, "zero": false},
     "axis": {"title": null, "values": [13.5,14,14.5,15,15.5,16,16.5,17,17.5,18,18.5,19,19.5], "labels": false, "grid": true, "gridColor": "#b0b0b0", "gridWidth": 1.5, "gridDash": {"condition": {"test": "datum.value % 1 != 0", "value": [8, 5]}, "value": []}, "tickSize": {"condition": {"test": "datum.value % 1 == 0", "value": 28}, "value": 0}}},
    "x2": {"field": "b"}}},
  {"data": {"values": [{"t": 14.164}, {"t": 18.435}]}, "mark": {"type": "rule", "color": "black", "strokeWidth": 1.5},
   "encoding": {"x": {"field": "t", "type": "quantitative", "scale": {"domain": [13.35, 19.722], "nice": false, "zero": false}, "axis": null}}},
  {"data": {"values": [{"t":14.74,"v":-5},{"t":14.747,"v":3.69},{"t":14.809,"v":4.14},{"t":15.047,"v":-5},{"t":15.063,"v":4.14},{"t":15.08,"v":-5},{"t":15.097,"v":4.14},{"t":15.113,"v":-5},{"t":15.13,"v":4.14},{"t":15.147,"v":-5},{"t":15.16,"v":4.14},{"t":15.41,"v":-5},{"t":15.427,"v":4.14},{"t":15.443,"v":-5},{"t":15.46,"v":4.14},{"t":15.477,"v":-5},{"t":15.493,"v":4.14},{"t":15.51,"v":-5},{"t":15.527,"v":4.14},{"t":15.543,"v":-5},{"t":15.56,"v":4.14},{"t":15.577,"v":-5},{"t":15.593,"v":4.14},{"t":15.61,"v":-5},{"t":15.622,"v":4.14},{"t":16.445,"v":4.61},{"t":17.39,"v":5.08},{"t":18.234,"v":5.53},{"t":18.425,"v":-5},{"t":18.44,"v":-5}]},
   "mark": {"type": "line", "strokeWidth": 7, "interpolate": "step-after", "clip": true},
   "encoding": {"x": {"field": "t", "type": "quantitative", "scale": {"domain": [13.35, 19.722], "nice": false, "zero": false}, "axis": null},
    "y": {"field": "v", "type": "quantitative", "scale": {"domain": [0.83, 21.1], "nice": false, "zero": false}, "axis": {"title": "Detector Temp", "values": [2.5,5,7.5,10,12.5,15,17.5,20], "format": ".1f"}},
    "color": {"datum": "2SPINATM", "type": "nominal", "scale": {"domain": ["2SPINATM","2SPHVATM","2IMINATM","2IMHVATM"], "range": ["#1f77b4","#ff7f0e","#2ca02c","#d62728"]}, "legend": {"title": null, "orient": "top-right"}}}},
  {"data": {"values": [{"t":14.745,"v":-5},{"t":14.747,"v":16.18},{"t":15.047,"v":10.55},{"t":15.063,"v":16.18},{"t":15.08,"v":10.55},{"t":15.097,"v":16.18},{"t":15.113,"v":10.8},{"t":15.13,"v":16.18},{"t":15.147,"v":10.8},{"t":15.16,"v":16.18},{"t":15.339,"v":16.4},{"t":15.41,"v":11.32},{"t":15.427,"v":16.4},{"t":15.443,"v":11.32},{"t":15.46,"v":16.4},{"t":15.477,"v":11.32},{"t":15.493,"v":16.4},{"t":15.51,"v":11.32},{"t":15.527,"v":16.4},{"t":15.543,"v":11.32},{"t":15.56,"v":16.4},{"t":15.577,"v":11.32},{"t":15.593,"v":16.4},{"t":15.61,"v":11.32},{"t":15.622,"v":16.4},{"t":15.72,"v":16.7},{"t":15.955,"v":16.9},{"t":15.962,"v":16.7},{"t":16.054,"v":16.97},{"t":16.397,"v":17.26},{"t":16.746,"v":17.54},{"t":17.104,"v":17.83},{"t":17.471,"v":18.13},{"t":17.867,"v":18.42},{"t":18.272,"v":18.71},{"t":18.434,"v":-5},{"t":18.44,"v":-5}]},
   "mark": {"type": "line", "strokeWidth": 7, "interpolate": "step-after", "clip": true},
   "encoding": {"x": {"field": "t", "type": "quantitative", "scale": {"domain": [13.35, 19.722], "nice": false, "zero": false}, "axis": null},
    "y": {"field": "v", "type": "quantitative", "scale": {"domain": [0.83, 21.1], "nice": false, "zero": false}, "axis": {"title": "Detector Temp", "values": [2.5,5,7.5,10,12.5,15,17.5,20], "format": ".1f"}},
    "color": {"datum": "2SPHVATM", "type": "nominal", "scale": {"domain": ["2SPINATM","2SPHVATM","2IMINATM","2IMHVATM"], "range": ["#1f77b4","#ff7f0e","#2ca02c","#d62728"]}}}},
  {"data": {"values": [{"t":14.745,"v":-5},{"t":14.747,"v":1.92},{"t":15.047,"v":4.17},{"t":15.063,"v":1.92},{"t":15.08,"v":4.17},{"t":15.097,"v":1.92},{"t":15.113,"v":4.17},{"t":15.13,"v":1.92},{"t":15.147,"v":4.17},{"t":15.16,"v":1.92},{"t":15.362,"v":2.34},{"t":15.41,"v":4.17},{"t":15.427,"v":2.34},{"t":15.443,"v":4.17},{"t":15.46,"v":2.34},{"t":15.477,"v":4.17},{"t":15.493,"v":2.34},{"t":15.51,"v":4.17},{"t":15.527,"v":2.34},{"t":15.543,"v":4.17},{"t":15.56,"v":2.34},{"t":15.577,"v":4.17},{"t":15.593,"v":2.34},{"t":15.61,"v":4.17},{"t":15.622,"v":2.34},{"t":16.756,"v":2.8},{"t":17.652,"v":3.25},{"t":18.425,"v":-5},{"t":18.44,"v":-5}]},
   "mark": {"type": "line", "strokeWidth": 7, "interpolate": "step-after", "clip": true},
   "encoding": {"x": {"field": "t", "type": "quantitative", "scale": {"domain": [13.35, 19.722], "nice": false, "zero": false}, "axis": null},
    "y": {"field": "v", "type": "quantitative", "scale": {"domain": [0.83, 21.1], "nice": false, "zero": false}, "axis": {"title": "Detector Temp", "values": [2.5,5,7.5,10,12.5,15,17.5,20], "format": ".1f"}},
    "color": {"datum": "2IMINATM", "type": "nominal", "scale": {"domain": ["2SPINATM","2SPHVATM","2IMINATM","2IMHVATM"], "range": ["#1f77b4","#ff7f0e","#2ca02c","#d62728"]}}}},
  {"data": {"values": [{"t":14.74,"v":-5},{"t":14.747,"v":15.55},{"t":14.895,"v":15.83},{"t":15.0,"v":16.1},{"t":15.109,"v":16.4},{"t":15.224,"v":16.68},{"t":15.348,"v":16.95},{"t":15.41,"v":16.35},{"t":15.427,"v":17.35},{"t":15.443,"v":16.35},{"t":15.46,"v":17.35},{"t":15.477,"v":16.35},{"t":15.493,"v":17.35},{"t":15.51,"v":16.35},{"t":15.527,"v":17.35},{"t":15.543,"v":16.35},{"t":15.56,"v":17.35},{"t":15.577,"v":16.35},{"t":15.593,"v":17.35},{"t":15.61,"v":16.35},{"t":15.622,"v":17.25},{"t":15.658,"v":17.53},{"t":15.839,"v":17.82},{"t":16.04,"v":18.11},{"t":16.283,"v":18.4},{"t":16.54,"v":18.7},{"t":16.837,"v":19.0},{"t":17.151,"v":19.31},{"t":17.495,"v":19.6},{"t":17.867,"v":19.9},{"t":18.282,"v":20.2},{"t":18.434,"v":30},{"t":18.439,"v":-5},{"t":18.445,"v":-5}]},
   "mark": {"type": "line", "strokeWidth": 7, "interpolate": "step-after", "clip": true},
   "encoding": {"x": {"field": "t", "type": "quantitative", "scale": {"domain": [13.35, 19.722], "nice": false, "zero": false}, "axis": null},
    "y": {"field": "v", "type": "quantitative", "scale": {"domain": [0.83, 21.1], "nice": false, "zero": false}, "axis": {"title": "Detector Temp", "values": [2.5,5,7.5,10,12.5,15,17.5,20], "format": ".1f"}},
    "color": {"datum": "2IMHVATM", "type": "nominal", "scale": {"domain": ["2SPINATM","2SPHVATM","2IMINATM","2IMHVATM"], "range": ["#1f77b4","#ff7f0e","#2ca02c","#d62728"]}}}}
 ]
},
{
 "width": 1704, "height": 670,
 "resolve": {"axis": {"x": "independent"}},
 "layer": [
  {"data": {"values": [{"a": 14.164, "b": 18.435}]}, "mark": {"type": "rect", "color": "#ff0000", "opacity": 0.055},
   "encoding": {"x": {"field": "a", "type": "quantitative", "scale": {"domain": [13.35, 19.722], "nice": false, "zero": false},
     "axis": {"title": "2023-08-10 (222)", "titleFontSize": 33, "titlePadding": 8, "values": [13.5,14,14.5,15,15.5,16,16.5,17,17.5,18,18.5,19,19.5],
      "labelExpr": "datum.value % 1 == 0 ? datum.value + 'h' : '30'",
      "labelFontSize": {"condition": {"test": "datum.value % 1 == 0", "value": 27}, "value": 17},
      "labelPadding": {"condition": {"test": "datum.value % 1 == 0", "value": 11}, "value": 6},
      "tickSize": {"condition": {"test": "datum.value % 1 == 0", "value": 28}, "value": 5},
      "labelFlush": false, "labelOverlap": false,
      "grid": true, "gridColor": "#b0b0b0", "gridWidth": 1.5, "gridDash": {"condition": {"test": "datum.value % 1 != 0", "value": [8, 5]}, "value": []}}},
    "x2": {"field": "b"}}},
  {"data": {"values": [{"t": 14.164}, {"t": 18.435}]}, "mark": {"type": "rule", "color": "black", "strokeWidth": 1.5},
   "encoding": {"x": {"field": "t", "type": "quantitative", "scale": {"domain": [13.35, 19.722], "nice": false, "zero": false}, "axis": null}}},
  {"data": {"values": [{"t":13.63,"v":-5.6},{"t":14.994,"v":-5.98},{"t":14.998,"v":-5.18},{"t":15.147,"v":-4.81},{"t":15.286,"v":-4.42},{"t":15.443,"v":-4.04},{"t":15.55,"v":-3.65},{"t":15.682,"v":-3.23},{"t":15.825,"v":-2.88},{"t":15.978,"v":-2.5},{"t":16.121,"v":-2.12},{"t":16.264,"v":-1.74},{"t":16.422,"v":-1.36},{"t":16.575,"v":-0.97},{"t":16.733,"v":-0.6},{"t":16.9,"v":-0.24},{"t":17.067,"v":0.14},{"t":17.234,"v":0.52},{"t":17.415,"v":0.9},{"t":17.591,"v":1.28},{"t":17.782,"v":1.66},{"t":17.973,"v":2.03},{"t":18.163,"v":2.42},{"t":18.368,"v":2.78},{"t":19.012,"v":2.42},{"t":19.365,"v":2.03},{"t":19.441,"v":2.03}]},
   "mark": {"type": "line", "strokeWidth": 7, "interpolate": "step-after", "clip": true},
   "encoding": {"x": {"field": "t", "type": "quantitative", "scale": {"domain": [13.35, 19.722], "nice": false, "zero": false}, "axis": null},
    "y": {"field": "v", "type": "quantitative", "scale": {"domain": [-6.7, 5.33], "nice": false, "zero": false}, "axis": {"title": "FEA Temp", "values": [-6,-4,-2,0,2,4]}},
    "color": {"datum": "2FHTRMZT", "type": "nominal", "scale": {"domain": ["2FHTRMZT","2FRADPYT","2FEPRATM","2FE00ATM"], "range": ["#1f77b4","#ff7f0e","#2ca02c","#d62728"]}, "legend": {"title": null, "orient": "bottom-right", "offset": 13}}}},
  {"data": {"values": [{"t":15.21,"v":-8},{"t":15.214,"v":-6.38},{"t":15.357,"v":-5.98},{"t":15.5,"v":-5.6},{"t":15.648,"v":-5.2},{"t":15.8,"v":-4.81},{"t":15.958,"v":-4.42},{"t":16.11,"v":-4.04},{"t":16.278,"v":-3.65},{"t":16.436,"v":-3.26},{"t":16.598,"v":-2.89},{"t":16.78,"v":-2.5},{"t":16.956,"v":-2.12},{"t":17.128,"v":-1.74},{"t":17.314,"v":-1.36},{"t":17.509,"v":-0.99},{"t":17.71,"v":-0.6},{"t":17.915,"v":-0.24},{"t":18.115,"v":0.14},{"t":18.33,"v":0.52},{"t":18.726,"v":0.91},{"t":18.798,"v":0.52},{"t":19.189,"v":0.14},{"t":19.441,"v":0.14}]},
   "mark": {"type": "line", "strokeWidth": 7, "interpolate": "step-after", "clip": true},
   "encoding": {"x": {"field": "t", "type": "quantitative", "scale": {"domain": [13.35, 19.722], "nice": false, "zero": false}, "axis": null},
    "y": {"field": "v", "type": "quantitative", "scale": {"domain": [-6.7, 5.33], "nice": false, "zero": false}, "axis": {"title": "FEA Temp", "values": [-6,-4,-2,0,2,4]}},
    "color": {"datum": "2FRADPYT", "type": "nominal", "scale": {"domain": ["2FHTRMZT","2FRADPYT","2FEPRATM","2FE00ATM"], "range": ["#1f77b4","#ff7f0e","#2ca02c","#d62728"]}}}},
  {"data": {"values": [{"t":14.776,"v":-4.65},{"t":14.809,"v":-4.2},{"t":14.847,"v":-3.83},{"t":14.895,"v":-3.5},{"t":14.92,"v":-3.17},{"t":14.995,"v":-2.84},{"t":15.047,"v":-4.65},{"t":15.063,"v":-2.6},{"t":15.08,"v":-4.65},{"t":15.097,"v":-2.6},{"t":15.113,"v":-4.65},{"t":15.13,"v":-2.6},{"t":15.147,"v":-4.65},{"t":15.16,"v":-2.5},{"t":15.195,"v":-2.18},{"t":15.277,"v":-1.84},{"t":15.39,"v":-1.54},{"t":15.41,"v":-4.65},{"t":15.427,"v":-1.5},{"t":15.443,"v":-4.65},{"t":15.46,"v":-1.5},{"t":15.477,"v":-4.65},{"t":15.493,"v":-1.3},{"t":15.51,"v":-4.65},{"t":15.527,"v":-1.2},{"t":15.543,"v":-4.65},{"t":15.56,"v":-1.2},{"t":15.577,"v":-4.65},{"t":15.593,"v":-1.0},{"t":15.61,"v":-4.65},{"t":15.622,"v":-1.0},{"t":15.683,"v":-0.5},{"t":15.802,"v":-0.18},{"t":15.935,"v":0.16},{"t":16.025,"v":0.46},{"t":16.135,"v":0.76},{"t":16.263,"v":1.08},{"t":16.383,"v":1.4},{"t":16.507,"v":1.7},{"t":16.636,"v":2.0},{"t":16.765,"v":2.29},{"t":16.89,"v":2.59},{"t":17.019,"v":2.91},{"t":17.162,"v":3.19},{"t":17.291,"v":3.48},{"t":17.439,"v":3.78},{"t":17.582,"v":4.08},{"t":17.735,"v":4.37},{"t":17.868,"v":4.67},{"t":18.035,"v":4.94},{"t":18.164,"v":5.19},{"t":18.35,"v":5.5},{"t":18.43,"v":-20},{"t":18.44,"v":-20}]},
   "mark": {"type": "line", "strokeWidth": 7, "interpolate": "step-after", "clip": true},
   "encoding": {"x": {"field": "t", "type": "quantitative", "scale": {"domain": [13.35, 19.722], "nice": false, "zero": false}, "axis": null},
    "y": {"field": "v", "type": "quantitative", "scale": {"domain": [-6.7, 5.33], "nice": false, "zero": false}, "axis": {"title": "FEA Temp", "values": [-6,-4,-2,0,2,4]}},
    "color": {"datum": "2FEPRATM", "type": "nominal", "scale": {"domain": ["2FHTRMZT","2FRADPYT","2FEPRATM","2FE00ATM"], "range": ["#1f77b4","#ff7f0e","#2ca02c","#d62728"]}}}},
  {"data": {"values": [{"t":14.74,"v":-20},{"t":14.747,"v":-3.46},{"t":14.895,"v":-3.12},{"t":14.976,"v":-2.78},{"t":15.047,"v":10},{"t":15.063,"v":-2.47},{"t":15.08,"v":10},{"t":15.097,"v":-2.47},{"t":15.113,"v":10},{"t":15.13,"v":-2.47},{"t":15.147,"v":10},{"t":15.16,"v":-2.45},{"t":15.171,"v":-2.12},{"t":15.252,"v":-1.78},{"t":15.37,"v":-1.48},{"t":15.41,"v":10},{"t":15.427,"v":-1.45},{"t":15.443,"v":10},{"t":15.46,"v":-1.45},{"t":15.477,"v":10},{"t":15.493,"v":-1.17},{"t":15.51,"v":10},{"t":15.527,"v":-1.17},{"t":15.543,"v":10},{"t":15.56,"v":-1.17},{"t":15.577,"v":10},{"t":15.593,"v":-0.88},{"t":15.61,"v":10},{"t":15.622,"v":-0.88},{"t":15.658,"v":-0.44},{"t":15.777,"v":-0.12},{"t":15.91,"v":0.22},{"t":16.0,"v":0.52},{"t":16.11,"v":0.82},{"t":16.238,"v":1.14},{"t":16.358,"v":1.46},{"t":16.482,"v":1.76},{"t":16.611,"v":2.06},{"t":16.646,"v":2.4},{"t":16.651,"v":2.06},{"t":16.74,"v":2.35},{"t":16.865,"v":2.65},{"t":16.946,"v":3.3},{"t":16.951,"v":2.65},{"t":16.994,"v":2.97},{"t":17.137,"v":3.25},{"t":17.266,"v":3.54},{"t":17.414,"v":3.84},{"t":17.557,"v":4.14},{"t":17.71,"v":4.43},{"t":17.843,"v":4.73},{"t":18.01,"v":5.0},{"t":18.139,"v":5.25},{"t":18.33,"v":5.55},{"t":18.432,"v":-20},{"t":18.436,"v":20},{"t":18.44,"v":-20},{"t":18.445,"v":-20}]},
   "mark": {"type": "line", "strokeWidth": 7, "interpolate": "step-after", "clip": true},
   "encoding": {"x": {"field": "t", "type": "quantitative", "scale": {"domain": [13.35, 19.722], "nice": false, "zero": false}, "axis": null},
    "y": {"field": "v", "type": "quantitative", "scale": {"domain": [-6.7, 5.33], "nice": false, "zero": false}, "axis": {"title": "FEA Temp", "values": [-6,-4,-2,0,2,4]}},
    "color": {"datum": "2FE00ATM", "type": "nominal", "scale": {"domain": ["2FHTRMZT","2FRADPYT","2FEPRATM","2FE00ATM"], "range": ["#1f77b4","#ff7f0e","#2ca02c","#d62728"]}}}}
 ]
}
],
"config": {
 "view": {"stroke": "black", "strokeWidth": 2.5},
 "axis": {"domain": false, "grid": false, "labelFont": "DejaVu Sans", "labelFontSize": 27, "labelColor": "black", "titleFont": "DejaVu Sans", "titleFontSize": 27, "titleFontWeight": "normal", "titleColor": "black", "tickColor": "black", "tickWidth": 2.5, "tickSize": 27, "labelPadding": 8, "titlePadding": 12, "labelFlush": false},
 "legend": {"labelFont": "DejaVu Sans", "labelFontSize": 27, "labelColor": "black", "labelLimit": 400, "symbolType": "M-2.4,0H2.4", "symbolSize": 729, "symbolStrokeWidth": 7, "rowPadding": 14, "padding": 10, "symbolOffset": 16, "labelOffset": 33, "cornerRadius": 6, "strokeColor": "#d9d9d9", "fillColor": "white", "offset": 15},
 "text": {"font": "DejaVu Sans"}
}
}
